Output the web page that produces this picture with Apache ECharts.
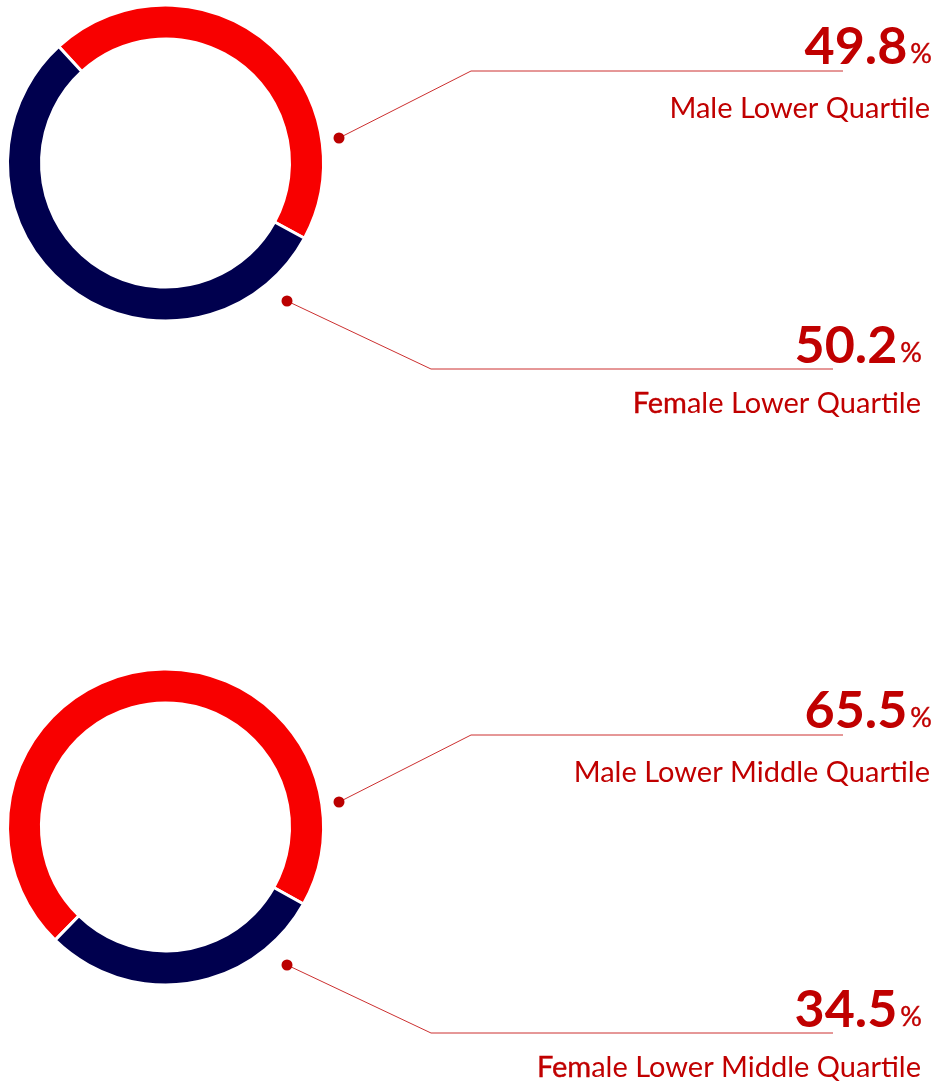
<!DOCTYPE html>
<html>
<head>
<meta charset="utf-8">
<script src="https://cdn.jsdelivr.net/npm/echarts@6/dist/echarts.min.js"></script>
<style>
html,body{margin:0;padding:0;background:#fff;}
#chart{width:937px;height:1085px;}
</style>
</head>
<body>
<div id="chart"></div>
<script>
// ---- data ----
const quartiles = ['Lower Quartile', 'Lower Middle Quartile'];
const seriesNames = ['Male', 'Female'];
// percentages printed in the labels
const malePercentLabels = [49.8, 65.5];
const femalePercentLabels = [50.2, 34.5];
// shares as drawn by the ring arcs in the picture
const maleArcShare = [44.7, 70.8];
const femaleArcShare = [55.3, 29.2];
// where the male slice begins (degrees, ECharts convention)
const ringStartAngles = [132.5, 225.7];

// ---- style ----
const RED = '#F80000';
const NAVY = '#00004E';
const TEXT = '#C00000';
const LINE = '#CC3030';
const FONT = 'Lato, "Open Sans", sans-serif';
const OFFSET = 664;

const chart = echarts.init(document.getElementById('chart'), null, {renderer: 'canvas'});

const series = quartiles.map((q, i) => ({
  type: 'pie',
  center: [165.5, 163 + i * OFFSET],
  radius: [124, 158],
  startAngle: ringStartAngles[i],
  clockwise: true,
  silent: true,
  label: {show: false},
  labelLine: {show: false},
  itemStyle: {borderColor: '#fff', borderWidth: 3},
  data: [
    {name: seriesNames[0] + ' ' + q, value: maleArcShare[i], itemStyle: {color: RED}},
    {name: seriesNames[1] + ' ' + q, value: femaleArcShare[i], itemStyle: {color: NAVY}}
  ]
}));

function annotation(dot, elbow, lineEndX, rightX, numBaseline, subRight, subBaseline, value, richSub) {
  const els = [];
  els.push({
    type: 'polyline', silent: true,
    shape: {points: [dot, elbow, [lineEndX, elbow[1]]]},
    style: {stroke: LINE, lineWidth: 1, fill: null}
  });
  els.push({
    type: 'circle', silent: true,
    shape: {cx: dot[0], cy: dot[1], r: 5.5},
    style: {fill: '#BB0000'}
  });
  els.push({
    type: 'text', silent: true,
    x: rightX, y: numBaseline + 10,
    style: {
      text: '{n|' + value.toFixed(1) + '}{p|%}',
      align: 'right', verticalAlign: 'bottom',
      rich: {
        n: {fontSize: 52, fontWeight: 'bold', fontFamily: FONT, fill: TEXT, lineHeight: 52, verticalAlign: 'bottom'},
        p: {fontSize: 27, fontWeight: 'normal', fontFamily: FONT, fill: TEXT, lineHeight: 27, verticalAlign: 'bottom',
            padding: [0, 0, 5, 3], stroke: TEXT, lineWidth: 0.4}
      }
    }
  });
  els.push({
    type: 'text', silent: true,
    x: subRight, y: subBaseline + 7,
    style: {
      text: richSub,
      align: 'right', verticalAlign: 'bottom',
      rich: {
        b: {fontSize: 29, fontWeight: 'normal', fontFamily: FONT, fill: TEXT, lineHeight: 32,
            stroke: TEXT, lineWidth: 0.4},
        r: {fontSize: 29, fontWeight: 'normal', fontFamily: FONT, fill: TEXT, lineHeight: 32}
      }
    }
  });
  return els;
}

const graphics = [];
quartiles.forEach((q, i) => {
  const oy = i * OFFSET;
  const maleSub = seriesNames[0] + ' ' + q;
  graphics.push(...annotation([339, 138 + oy], [471, 71 + oy], 843, 932, 63 + oy, 930, 118 + oy,
    malePercentLabels[i], '{r|' + maleSub + '}'));
  const femSub = seriesNames[1] + ' ' + q;
  graphics.push(...annotation([287, 301 + oy], [431, 369 + oy], 833, 922, 362 + oy, 921, 413 + oy,
    femalePercentLabels[i], '{b|Fem}{r|' + femSub.slice(3) + '}'));
});

chart.setOption({
  backgroundColor: '#fff',
  animation: false,
  series: series,
  graphic: graphics
});
</script>
</body>
</html>
